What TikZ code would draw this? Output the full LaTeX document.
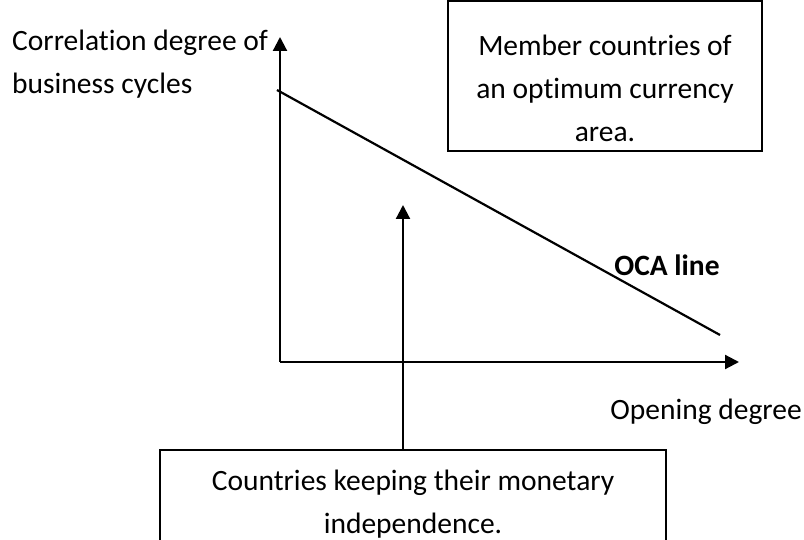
\documentclass[tikz,border=0pt]{standalone}
\usepackage{fontspec}
\setmainfont{Carlito}[RawFeature=-liga]
\usetikzlibrary{arrows.meta}
\begin{document}
\begin{tikzpicture}[x=1pt,y=-1pt,
  txt/.style={font=\fontsize{29.5}{43}\selectfont, inner sep=0pt},
  axis/.style={line width=2.2pt, -{Triangle[length=14pt,width=14pt]}}]
\useasboundingbox (0,0) rectangle (804,540);
\fill[white] (0,0) rectangle (804,540);
\coordinate (O) at (280,362);
\coordinate (ytop) at (280,37);
\coordinate (xend) at (739,362);
\coordinate (ocaA) at (277,90);
\coordinate (ocaB) at (720,335);
\coordinate (vtip) at (403,205);
\draw[axis] (O) -- (ytop);
\draw[axis] (O) -- (xend);
\draw[line width=2.2pt] (ocaA) -- (ocaB);
\node[txt, align=left, anchor=west] (ylab) at (12,64) {Correlation degree of\\business cycles};
\node[txt, anchor=center] (xlab) at (706,412) {Opening degree};
\node[txt, font=\fontsize{29.5}{43}\selectfont\bfseries] (oca) at (667,265) {OCA line};
\draw[line width=1.5pt] (448,1) rectangle (762,151);
\node[txt, align=center] (mem) at (605,88) {Member countries of\\an optimum currency\\area.};
\draw[line width=1.5pt] (160,450) rectangle (666,560);
\coordinate (boxtop) at (403,450);
\node[txt, align=center] (ind) at (413,504) {Countries keeping their monetary\\independence.};
\draw[axis] (boxtop) -- (vtip);
\end{tikzpicture}
\end{document}
